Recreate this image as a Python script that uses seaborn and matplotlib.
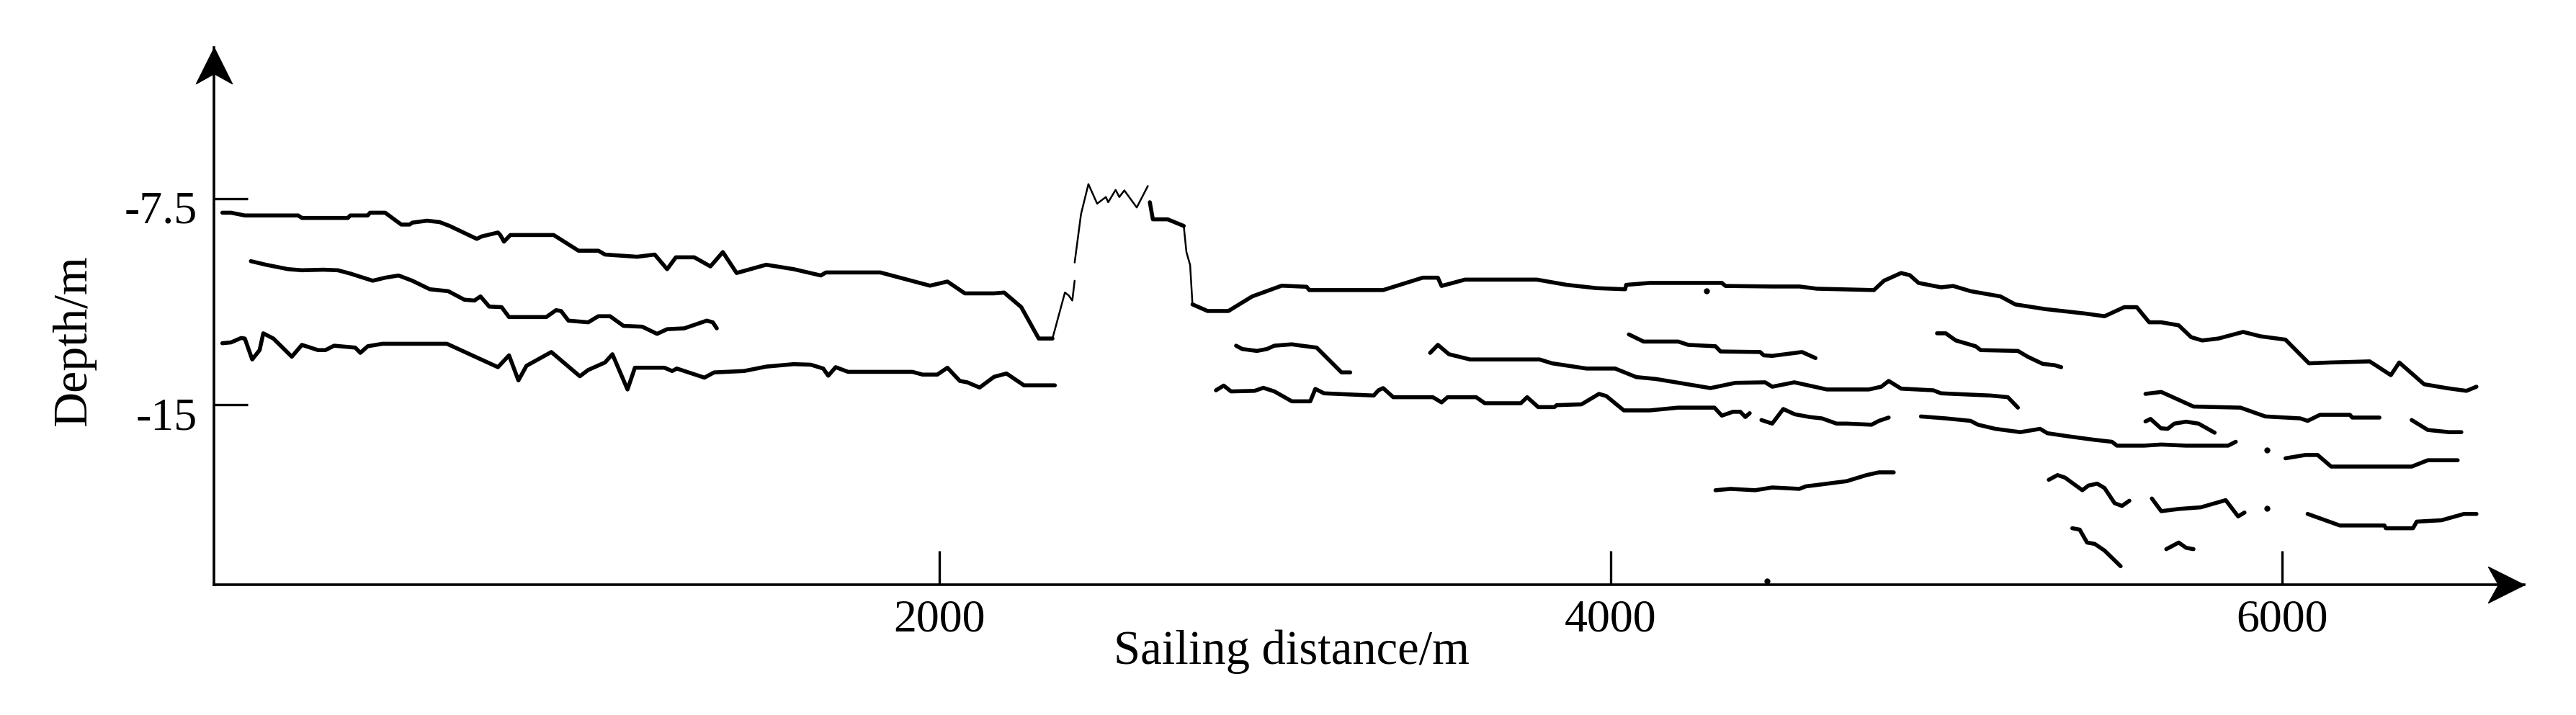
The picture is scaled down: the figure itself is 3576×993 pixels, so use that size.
import numpy as np
import pandas as pd
import matplotlib
matplotlib.use("Agg")
import matplotlib.pyplot as plt
from matplotlib.path import Path
from matplotlib.transforms import ScaledTranslation
import seaborn as sns

# ========================== data: (sailing distance m, depth m) ==========================
# seabed / top reflector, split where the trace is drawn thin
top_west = [(-135, -8.02), (-109, -8.02), (-68, -8.12), (91, -8.12), (102, -8.21), (239, -8.21),
            (246, -8.12), (298, -8.12), (305, -8.02), (350, -8.02), (398, -8.45), (423, -8.45),
            (431, -8.38), (475, -8.31), (512, -8.36), (542, -8.50), (623, -8.97), (638, -8.88),
            (686, -8.74), (693, -8.83), (704, -9.07), (723, -8.83), (852, -8.83), (926, -9.40),
            (985, -9.40), (1005, -9.54), (1101, -9.62), (1153, -9.54), (1190, -10.07), (1216, -9.64),
            (1271, -9.64), (1319, -9.97), (1356, -9.45), (1397, -10.21), (1485, -9.91), (1567, -10.07),
            (1648, -10.30), (1663, -10.19), (1825, -10.19), (1973, -10.67), (2025, -10.52),
            (2077, -10.95), (2164, -10.95), (2194, -10.92), (2245, -11.45), (2297, -12.59), (2338, -12.59)]
top_rise = [(2338, -12.59), (2375, -10.92), (2386, -11.02), (2397, -11.21), (2404, -10.49)]
top_peak = [(2404, -9.83), (2423, -8.07), (2445, -6.98), (2471, -7.69), (2497, -7.45), (2504, -7.64),
            (2526, -7.19), (2537, -7.45), (2552, -7.21), (2589, -7.83), (2622, -7.05)]
top_shelf = [(2628, -7.64), (2637, -8.26), (2681, -8.26), (2729, -8.50)]
top_drop = [(2729, -8.50), (2737, -9.45), (2748, -9.92), (2755, -11.35)]
top_east = [(2755, -11.35), (2800, -11.59), (2862, -11.59), (2933, -11.06), (3021, -10.67), (3095, -10.71),
            (3103, -10.83), (3323, -10.83), (3441, -10.38), (3486, -10.38), (3497, -10.68), (3567, -10.45),
            (3781, -10.45), (3870, -10.64), (3959, -10.76), (4044, -10.80), (4047, -10.64), (4117, -10.57),
            (4332, -10.57), (4343, -10.68), (4482, -10.70), (4563, -10.70), (4615, -10.78), (4785, -10.83),
            (4815, -10.49), (4866, -10.21), (4892, -10.29), (4918, -10.57), (4985, -10.73), (5021, -10.68),
            (5073, -10.87), (5162, -11.06), (5206, -11.35), (5295, -11.52), (5413, -11.68), (5472, -11.78),
            (5531, -11.45), (5568, -11.45), (5605, -12.00), (5641, -12.00), (5693, -12.11), (5730, -12.54),
            (5763, -12.66), (5811, -12.59), (5885, -12.35), (5937, -12.51), (6011, -12.63), (6081, -13.49),
            (6144, -13.46), (6262, -13.42), (6325, -13.92), (6350, -13.46), (6424, -14.25), (6491, -14.39),
            (6550, -14.49), (6580, -14.34)]

# sub-bottom reflectors
mid_west = [(-50, -9.78), (-5, -9.91), (61, -10.07), (102, -10.11), (165, -10.09), (209, -10.11),
            (246, -10.23), (313, -10.49), (350, -10.38), (390, -10.30), (431, -10.49), (483, -10.80),
            (538, -10.87), (586, -11.18), (616, -11.21), (634, -11.06), (660, -11.43), (697, -11.45),
            (719, -11.81), (830, -11.81), (859, -11.56), (874, -11.59), (896, -11.94), (955, -12.00),
            (985, -11.78), (1020, -11.78), (1060, -12.13), (1116, -12.16), (1160, -12.42), (1190, -12.25),
            (1241, -12.22), (1308, -11.94), (1326, -12.00), (1338, -12.22)]
low_west = [(-135, -12.76), (-109, -12.73), (-79, -12.57), (-68, -12.59), (-46, -13.35), (-24, -13.01),
            (-13, -12.40), (17, -12.59), (72, -13.25), (102, -12.82), (150, -13.01), (172, -13.01),
            (198, -12.85), (261, -12.92), (276, -13.11), (298, -12.87), (342, -12.78), (534, -12.78),
            (686, -13.63), (719, -13.20), (747, -14.11), (771, -13.58), (845, -13.08), (930, -13.96),
            (955, -13.73), (1005, -13.46), (1027, -13.16), (1072, -14.44), (1094, -13.65), (1182, -13.65),
            (1205, -13.77), (1219, -13.68), (1301, -14.01), (1330, -13.82), (1419, -13.77), (1485, -13.61),
            (1567, -13.52), (1618, -13.54), (1655, -13.68), (1670, -13.94), (1692, -13.63), (1729, -13.80),
            (1921, -13.80), (1951, -13.90), (1995, -13.90), (2025, -13.65), (2062, -14.13), (2084, -14.18),
            (2121, -14.37), (2164, -13.98), (2201, -13.86), (2253, -14.29), (2345, -14.29)]
seg_d = [(2885, -12.85), (2903, -12.97), (2947, -13.04), (2977, -12.97), (2999, -12.85), (3051, -12.80),
         (3080, -12.85), (3125, -12.92), (3199, -13.82), (3225, -13.82)]
base_east = [(2825, -14.47), (2848, -14.30), (2870, -14.51), (2940, -14.49), (2966, -14.38), (2999, -14.51),
             (3051, -14.87), (3106, -14.87), (3121, -14.42), (3147, -14.58), (3295, -14.66), (3309, -14.47),
             (3323, -14.39), (3353, -14.72), (3471, -14.72), (3497, -14.91), (3515, -14.72), (3600, -14.72),
             (3626, -14.94), (3733, -14.94), (3752, -14.72), (3785, -15.08), (3833, -15.08), (3840, -15.01),
             (3914, -14.98), (3966, -14.60), (3988, -14.68), (4040, -15.20), (4117, -15.20), (4202, -15.10),
             (4310, -15.10), (4332, -15.39), (4365, -15.25), (4387, -15.25), (4402, -15.44), (4415, -15.30)]
mid_east = [(3463, -13.11), (3486, -12.82), (3519, -13.16), (3582, -13.35), (3789, -13.35), (3826, -13.49),
            (3929, -13.68), (4014, -13.68), (4077, -13.99), (4136, -14.06), (4298, -14.39), (4372, -14.20),
            (4461, -14.18), (4482, -14.34), (4548, -14.18), (4645, -14.44), (4770, -14.44), (4807, -14.34),
            (4829, -14.13), (4866, -14.41), (4962, -14.47), (4985, -14.58), (5132, -14.66), (5184, -14.72),
            (5214, -15.10)]
seg_g = [(4055, -12.44), (4099, -12.70), (4202, -12.70), (4232, -12.82), (4313, -12.87), (4328, -13.06),
         (4446, -13.08), (4457, -13.20), (4482, -13.22), (4571, -13.08), (4611, -13.30)]
lens_h = [(4313, -18.10), (4358, -18.05), (4431, -18.10), (4482, -18.00), (4563, -18.05), (4582, -17.96),
          (4615, -17.91), (4704, -17.77), (4763, -17.55), (4800, -17.45), (4844, -17.45)]
seg_i = [(4450, -15.55), (4482, -15.68), (4515, -15.15), (4549, -15.34), (4593, -15.44), (4630, -15.49),
         (4674, -15.68), (4704, -15.68), (4778, -15.72), (4800, -15.58), (4829, -15.46)]
seg_j = [(4925, -15.42), (4999, -15.49), (5073, -15.58), (5095, -15.72), (5147, -15.87), (5221, -15.99),
         (5280, -15.87), (5302, -16.03), (5369, -16.15), (5443, -16.27), (5494, -16.34), (5509, -16.48),
         (5590, -16.48), (5641, -16.44), (5715, -16.48), (5840, -16.48), (5863, -16.34)]
seg_k = [(4973, -12.40), (4999, -12.40), (5029, -12.66), (5088, -12.87), (5103, -13.01), (5214, -13.04),
         (5243, -13.25), (5288, -13.51), (5324, -13.56), (5343, -13.63)]
seg_l = [(5306, -17.72), (5332, -17.55), (5354, -17.64), (5406, -18.10), (5424, -17.93), (5450, -17.86),
         (5472, -18.02), (5502, -18.57), (5524, -18.67), (5546, -18.48)]
seg_m = [(5376, -19.48), (5398, -19.53), (5420, -20.00), (5443, -20.05), (5472, -20.29), (5520, -20.86)]
seg_n = [(5594, -14.60), (5641, -14.53), (5737, -15.06), (5877, -15.10), (5951, -15.42), (6055, -15.49),
         (6077, -15.58), (6114, -15.36), (6203, -15.36), (6210, -15.46), (6291, -15.46)]
seg_o = [(5594, -15.60), (5609, -15.51), (5640, -15.85), (5660, -15.87), (5680, -15.68), (5715, -15.61),
         (5752, -15.68), (5800, -16.01)]
seg_p = [(6387, -15.55), (6435, -15.91), (6498, -15.99), (6535, -15.99)]
seg_q = [(6011, -16.94), (6070, -16.82), (6107, -16.82), (6147, -17.24), (6387, -17.24), (6435, -17.01),
         (6524, -17.01)]
seg_r = [(5613, -18.40), (5641, -18.86), (5693, -18.78), (5759, -18.72), (5833, -18.46), (5870, -19.05),
         (5889, -18.91)]
seg_s = [(6077, -18.96), (6173, -19.38), (6306, -19.38), (6310, -19.48), (6391, -19.48), (6402, -19.24),
         (6476, -19.19), (6543, -18.96), (6580, -18.96)]
seg_t = [(5656, -20.24), (5693, -20.00), (5715, -20.19), (5737, -20.24)]
specks = [(5955, -16.63), (5955, -18.77), (4287, -10.85), (4467, -21.40)]

y_ticks = [-15, -7.5]
y_ticklabels = ["-15", "-7.5"]
x_ticks = [2000, 4000, 6000]
x_ticklabels = ["2000", "4000", "6000"]

# ========================== long tables for seaborn ==========================
thick = {"top_west": top_west, "top_shelf": top_shelf, "top_east": top_east, "mid_west": mid_west,
         "low_west": low_west, "seg_d": seg_d, "base_east": base_east, "mid_east": mid_east,
         "seg_g": seg_g, "lens_h": lens_h, "seg_i": seg_i, "seg_j": seg_j, "seg_k": seg_k,
         "seg_l": seg_l, "seg_m": seg_m, "seg_n": seg_n, "seg_o": seg_o, "seg_p": seg_p,
         "seg_q": seg_q, "seg_r": seg_r, "seg_s": seg_s, "seg_t": seg_t}
thin = {"top_rise": top_rise, "top_peak": top_peak, "top_drop": top_drop}


def to_frame(groups):
    rows = [(name, x, d) for name, pts in groups.items() for x, d in pts]
    return pd.DataFrame(rows, columns=["seg", "dist", "depth"])


df_thick = to_frame(thick)
df_thin = to_frame(thin)
df_specks = pd.DataFrame(specks, columns=["dist", "depth"])

# ========================== figure ==========================
sns.set_theme(style="white")
plt.rcParams["font.family"] = ["Liberation Serif", "DejaVu Serif"]

W, H = 3576, 993
fig = plt.figure(figsize=(W / 100, H / 100), dpi=100)
ax = fig.add_axes([297 / W, 1 - 812 / H, (3504 - 297) / W, (812 - 66) / H])

sns.lineplot(data=df_thick, x="dist", y="depth", units="seg", estimator=None, sort=False,
             color="black", lw=4.0, ax=ax, legend=False)
sns.lineplot(data=df_thin, x="dist", y="depth", units="seg", estimator=None, sort=False,
             color="black", lw=1.8, ax=ax, legend=False)
sns.scatterplot(data=df_specks, x="dist", y="depth", color="black", s=36, linewidth=0, ax=ax)

ax.set_xlim(-160, 6722)
ax.set_ylim(-21.53, -2.02)

for side in ["top", "right"]:
    ax.spines[side].set_visible(False)
for side in ["left", "bottom"]:
    ax.spines[side].set_color("black")
    ax.spines[side].set_linewidth(2.6)

# arrow heads at the axis ends
up = Path([(0, 0), (0.5, -1), (0, -0.72), (-0.5, -1), (0, 0)],
          [Path.MOVETO, Path.LINETO, Path.LINETO, Path.LINETO, Path.CLOSEPOLY])
right = Path([(0, 0), (-1, 0.5), (-0.72, 0), (-1, -0.5), (0, 0)],
             [Path.MOVETO, Path.LINETO, Path.LINETO, Path.LINETO, Path.CLOSEPOLY])
ax.plot([0], [1], marker=up, ms=72, color="black", transform=ax.transAxes, clip_on=False)
ax.plot([1], [0], marker=right, ms=72, color="black", transform=ax.transAxes, clip_on=False)

ax.set_xticks(x_ticks)
ax.set_xticklabels(x_ticklabels)
ax.set_yticks(y_ticks)
ax.set_yticklabels(y_ticklabels)
ax.tick_params(axis="both", direction="in", length=34, width=2.4, color="black",
               labelsize=46, labelcolor="black", bottom=True, left=True)
ax.tick_params(axis="x", pad=15)
ax.tick_params(axis="y", pad=17)
for lab in ax.get_yticklabels():
    lab.set_transform(lab.get_transform() + ScaledTranslation(0, -0.12, fig.dpi_scale_trans))

ax.set_xlabel("Sailing distance/m", fontsize=48, color="black")
ax.xaxis.set_label_coords(0.4665, -0.084)
ax.set_ylabel("Depth/m", fontsize=49, color="black")
ax.yaxis.set_label_coords(-0.051, 0.454)

fig.savefig("out.png", dpi=100)
